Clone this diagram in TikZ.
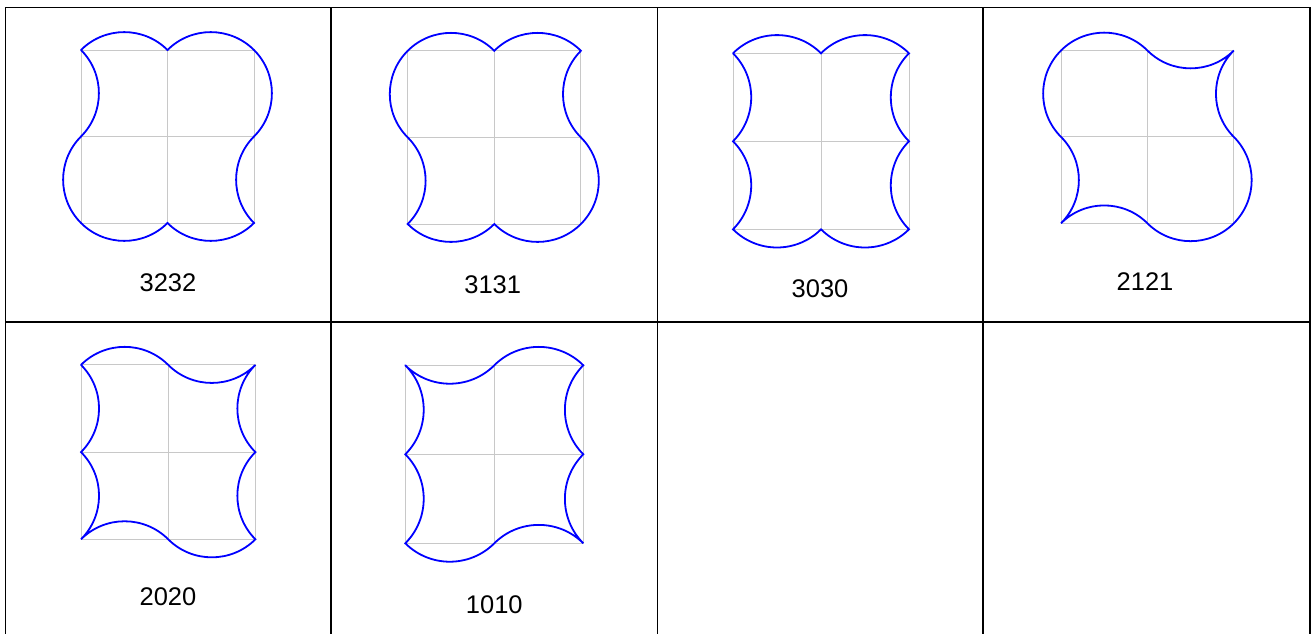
\documentclass[tikz,border=0pt]{standalone}
\usepackage{fontspec}
\setmainfont{Liberation Sans}

\definecolor{grigio}{RGB}{200,200,200}
\tikzset{
  bordo/.style={draw=black, line width=1.8pt, line cap=rect},
  griglia/.style={draw=grigio, line width=0.9pt},
  curva/.style={draw=blue, line width=1.8pt, line cap=round},
  bulge/.style={bend left=45},
  dent/.style={bend right=45},
  etichetta/.style={font=\fontsize{25.5}{30}\selectfont, inner sep=0pt}
}
\newcommand{\grigliaquad}{\draw[griglia] (0,0) rectangle (2,2) (1,0) -- (1,2) (0,1) -- (2,1);}

\begin{document}
\begin{tikzpicture}[x=1pt, y=1pt]
\useasboundingbox (0,0) rectangle (1313,633);

% Tabella
\foreach \x in {5.5, 331, 657.5, 983, 1310}
  \draw[bordo] (\x,-3) -- (\x,625.5);
\draw[bordo] (5.5,625.5) -- (1310,625.5);
\draw[bordo] (5.5,311) -- (1310,311);

% 3232
\begin{scope}[shift={(81pt,410pt)}, x=86.5pt, y=86.5pt]
  \grigliaquad
  \draw[curva] (0,2) to[bulge] (1,2) to[bulge] (2,2) to[bulge] (2,1) to[dent] (2,0)
    to[bulge] (1,0) to[bulge] (0,0) to[bulge] (0,1) to[dent] (0,2);
\end{scope}
\node[etichetta] (e3232) at (168,350) {3232};

% 3131
\begin{scope}[shift={(407.7pt,409pt)}, x=86.6pt, y=86.6pt]
  \grigliaquad
  \draw[curva] (0,2) to[bulge] (1,2) to[bulge] (2,2) to[dent] (2,1) to[bulge] (2,0)
    to[bulge] (1,0) to[bulge] (0,0) to[dent] (0,1) to[bulge] (0,2);
\end{scope}
\node[etichetta] (e3131) at (492.7,348) {3131};

% 3030
\begin{scope}[shift={(733pt,403.7pt)}, x=88pt, y=88pt]
  \grigliaquad
  \draw[curva] (0,2) to[bulge] (1,2) to[bulge] (2,2) to[dent] (2,1) to[dent] (2,0)
    to[bulge] (1,0) to[bulge] (0,0) to[dent] (0,1) to[dent] (0,2);
\end{scope}
\node[etichetta] (e3030) at (820,344) {3030};

% 2121
\begin{scope}[shift={(1061pt,409.7pt)}, x=86.4pt, y=86.4pt]
  \grigliaquad
  \draw[curva] (0,2) to[bulge] (1,2) to[dent] (2,2) to[dent] (2,1) to[bulge] (2,0)
    to[bulge] (1,0) to[dent] (0,0) to[dent] (0,1) to[bulge] (0,2);
\end{scope}
\node[etichetta] (e2121) at (1145,351.3) {2121};

% 2020
\begin{scope}[shift={(81pt,93.7pt)}, x=87.2pt, y=87.2pt]
  \grigliaquad
  \draw[curva] (0,2) to[bulge] (1,2) to[dent] (2,2) to[dent] (2,1) to[dent] (2,0)
    to[bulge] (1,0) to[dent] (0,0) to[dent] (0,1) to[dent] (0,2);
\end{scope}
\node[etichetta] (e2020) at (168,36) {2020};

% 1010
\begin{scope}[shift={(405.3pt,89.7pt)}, x=89pt, y=89pt]
  \grigliaquad
  \draw[curva] (0,2) to[dent] (1,2) to[bulge] (2,2) to[dent] (2,1) to[dent] (2,0)
    to[dent] (1,0) to[bulge] (0,0) to[dent] (0,1) to[dent] (0,2);
\end{scope}
\node[etichetta] (e1010) at (494.3,28) {1010};

\end{tikzpicture}
\end{document}
